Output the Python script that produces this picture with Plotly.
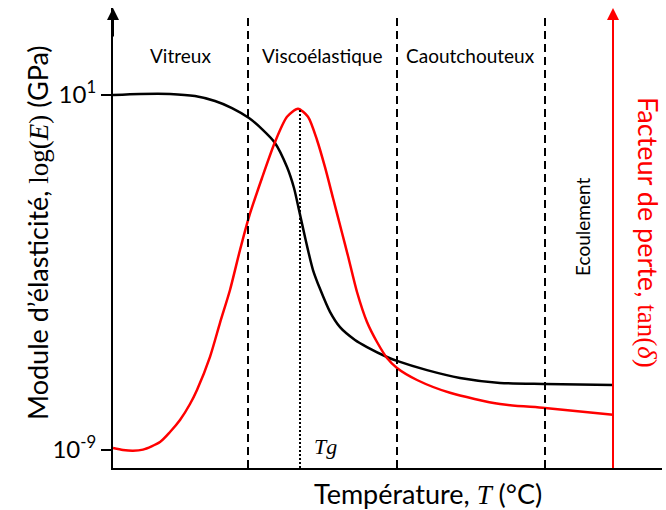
import plotly.graph_objects as go

# ---- data (arbitrary temperature units) ----
T_modulus = [0, 5.4, 11.4, 16.4, 20.4, 23.8, 27.2, 29.8, 32.4, 34.8, 36.2, 37.2, 38.0,
             39.0, 40.0, 41.4, 43.4, 45.4, 48.4, 50.8, 54.8, 56.8, 62.8, 69.4, 77.4, 86.4, 100]
logE = [1.0, 1.03, 1.03, 0.97, 0.83, 0.63, 0.35, 0.04, -0.35, -1.03, -1.62, -2.24, -2.75,
        -3.37, -3.93, -4.46, -5.11, -5.54, -5.90, -6.10, -6.38, -6.49, -6.75, -6.97, -7.11, -7.14, -7.17]

T_loss = [0, 2, 4, 6, 9.4, 11.4, 13.4, 15.4, 16.8, 19.4, 21.4, 23.4, 25.4, 27.2, 29.8, 32.4, 34.8, 37,
          39, 40.8, 42.4, 44, 45.8, 47, 48.8, 50.8, 52.8, 54.8, 56.8, 60.8, 67.4, 77.4, 86.4, 100]
tan_delta = [0.050, 0.045, 0.043, 0.046, 0.065, 0.090, 0.120, 0.160, 0.195, 0.278, 0.363, 0.445,
             0.545, 0.628, 0.725, 0.815, 0.878, 0.898, 0.878, 0.820, 0.752, 0.675, 0.588, 0.530,
             0.440, 0.365, 0.315, 0.275, 0.250, 0.220, 0.188, 0.160, 0.150, 0.133]

region_bounds = [27.0, 56.8, 86.4]
region_names = ["Vitreux", "Viscoélastique", "Caoutchouteux"]
region_centers = [13.4, 41.8, 71.4]
flow_label = "Ecoulement"
flow_center = 93.8
Tg = 37.4
Tg_peak = 0.898
right_axis_T = 100

ytick_vals = [1, -9]
ytick_text = ["10<sup>1</sup>", "10<sup>-9</sup>"]

X_RANGE = [0, 109.8]
Y_RANGE = [-9.507, 3.451]
Y2_RANGE = [0, 1.15]

SANS = "Lato, 'Open Sans', sans-serif"
SERIF = "'Liberation Serif', 'DejaVu Serif', serif"
MATH = "<span style=\"font-family:'Liberation Serif'\">{}</span>"

fig = go.Figure()
fig.add_trace(go.Scatter(x=T_modulus, y=logE, mode="lines",
                         line=dict(color="black", width=2.5, shape="spline", smoothing=0.7),
                         showlegend=False, hoverinfo="skip"))
fig.add_trace(go.Scatter(x=T_loss, y=tan_delta, mode="lines", yaxis="y2",
                         line=dict(color="#ff0000", width=2.5, shape="spline", smoothing=0.7),
                         showlegend=False, hoverinfo="skip"))

shapes = []
for xb in region_bounds:
    shapes.append(dict(type="line", xref="x", yref="paper", x0=xb, x1=xb, y0=0, y1=0.983,
                       line=dict(color="black", width=2, dash="8px,5px")))
shapes.append(dict(type="line", xref="x", yref="y2", x0=Tg, x1=Tg, y0=0, y1=Tg_peak,
                   line=dict(color="black", width=2, dash="2px,2px")))
shapes.append(dict(type="line", xref="x", yref="paper", x0=right_axis_T, x1=right_axis_T,
                   y0=0, y1=0.99, line=dict(color="#ff0000", width=2)))

C = dict(xanchor="center", yanchor="middle", showarrow=False)
annotations = []
for name, xc in zip(region_names, region_centers):
    annotations.append(dict(x=xc, y=(468 - 56) / 460, xref="x", yref="paper", text=name, **C,
                            font=dict(family=SANS, size=19, color="black")))
annotations.append(dict(x=flow_center, y=(468 - 227) / 460, xref="x", yref="paper", text=flow_label,
                        textangle=-90, **C, font=dict(family=SANS, size=19, color="black")))
annotations.append(dict(x=42.4, y=(468 - 446) / 460, xref="x", yref="paper", text="<i>Tg</i>", **C,
                        font=dict(family=SERIF, size=22, color="black")))
# arrows at axis tops
annotations.append(dict(x=0, y=1.0, xref="x", yref="paper", ax=0, ay=30, text="",
                        showarrow=True, arrowhead=2, arrowsize=1.2, arrowwidth=2, arrowcolor="black"))
annotations.append(dict(x=right_axis_T, y=1.0, xref="x", yref="paper", ax=0, ay=30, text="",
                        showarrow=True, arrowhead=2, arrowsize=1.2, arrowwidth=2, arrowcolor="#ff0000"))
# titles
annotations.append(dict(x=(38 - 113) / 549, y=(468 - 233) / 460, xref="paper", yref="paper",
                        textangle=-90, **C,
                        text="Module d’élasticité, " + MATH.format("log(<i>E</i>)") + " (GPa)",
                        font=dict(family=SANS, size=27, color="black")))
annotations.append(dict(x=(648 - 113) / 549, y=(468 - 232) / 460, xref="paper", yref="paper",
                        textangle=90, **C,
                        text="Facteur de perte, " + MATH.format("tan(<i>δ</i>)"),
                        font=dict(family=SANS, size=27, color="#ff0000")))
annotations.append(dict(x=(428 - 113) / 549, y=(468 - 493) / 460, xref="paper", yref="paper",
                        **C,
                        text="Température, " + MATH.format("<i>T</i>") + " (°C)",
                        font=dict(family=SANS, size=27, color="black")))

fig.update_layout(
    width=666, height=510,
    margin=dict(l=113, r=4, t=8, b=42, autoexpand=False),
    paper_bgcolor="white", plot_bgcolor="white",
    xaxis=dict(range=X_RANGE, showgrid=False, zeroline=False, showline=True, linecolor="black",
               linewidth=2, showticklabels=False, ticks=""),
    yaxis=dict(range=Y_RANGE, showgrid=False, zeroline=False, showline=True, linecolor="black",
               linewidth=2, tickmode="array", tickvals=ytick_vals, ticktext=ytick_text,
               ticks="outside", ticklen=10, tickwidth=2, tickcolor="black",
               tickfont=dict(family=SANS, size=24, color="black")),
    yaxis2=dict(range=Y2_RANGE, overlaying="y", side="right", showgrid=False, zeroline=False,
                showline=False, showticklabels=False, ticks=""),
    shapes=shapes, annotations=annotations,
)

fig.write_html("out.html", config={"displayModeBar": False},
               post_script="document.body.style.margin='0';document.body.style.overflow='hidden';")
